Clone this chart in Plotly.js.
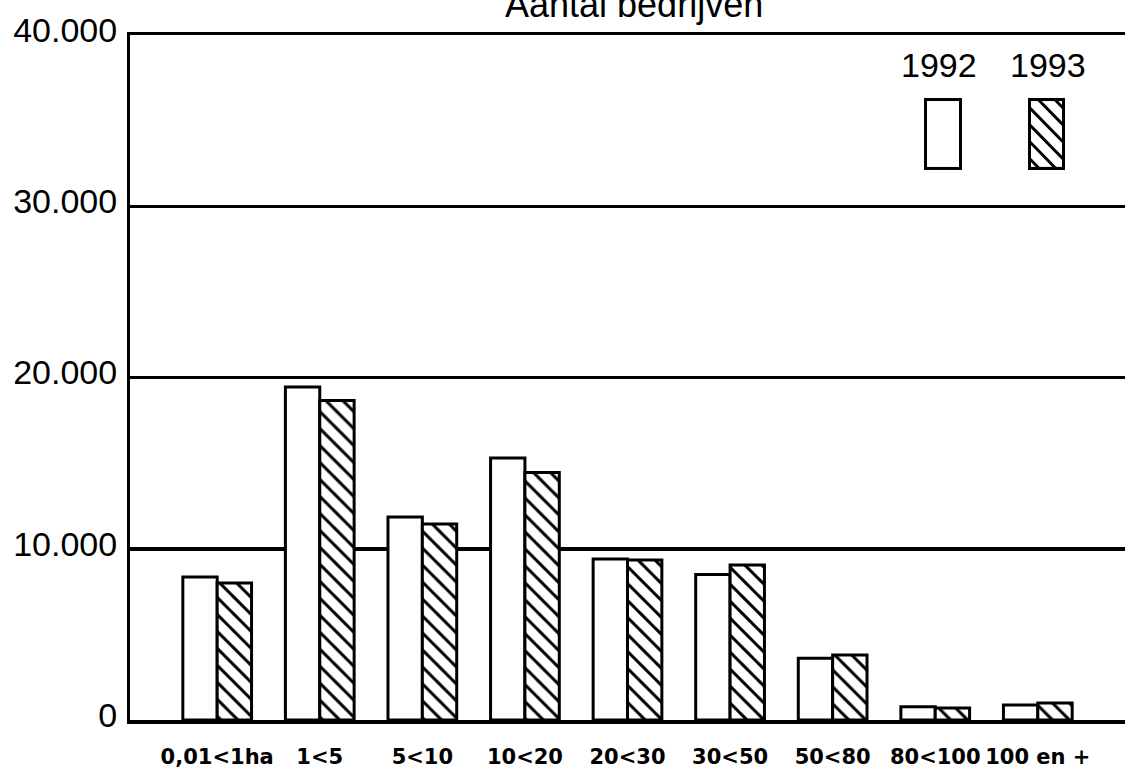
<!DOCTYPE html>
<html>
<head>
<meta charset="utf-8">
<script src="https://cdn.plot.ly/plotly-3.0.1.min.js"></script>
<style>html,body{margin:0;padding:0;background:#fff}#chart{width:1125px;height:773px}</style>
</head>
<body>
<div id="chart"></div>
<script>
// Data
const categories = ["0,01<1ha", "1<5", "5<10", "10<20", "20<30", "30<50", "50<80", "80<100", "100 en +"];
const values1992 = [8350, 19450, 11850, 15300, 9400, 8500, 3600, 780, 870];
const values1993 = [8000, 18650, 11450, 14450, 9350, 9050, 3800, 700, 1000];
const seriesNames = ["1992", "1993"];
const yTicks = [0, 10000, 20000, 30000, 40000];
const chartTitle = "Aantal bedrijven";

const hatch = {shape: "\\", size: 12, solidity: 0.25, fgcolor: "black", bgcolor: "white", fillmode: "replace"};

const traces = [
  {type: "bar", name: seriesNames[0], x: categories, y: values1992,
   marker: {color: "white", line: {color: "black", width: 3}}},
  {type: "bar", name: seriesNames[1], x: categories, y: values1993,
   marker: {color: "white", line: {color: "black", width: 3}, pattern: hatch}}
];

function svgBox(hatched) {
  let s = '<svg xmlns="http://www.w3.org/2000/svg" width="38" height="72" viewBox="0 0 38 72">';
  s += '<defs><clipPath id="c"><rect x="0" y="0" width="38" height="72"/></clipPath></defs>';
  s += '<rect x="1.5" y="1.5" width="35" height="69" fill="white" stroke="black" stroke-width="3"/>';
  if (hatched) {
    s += '<g clip-path="url(#c)" stroke="black" stroke-width="3">';
    for (let k = -60; k < 80; k += 17) {
      s += '<line x1="0" y1="' + k + '" x2="60" y2="' + (k + 60) + '"/>';
    }
    s += '</g><rect x="1.5" y="1.5" width="35" height="69" fill="none" stroke="black" stroke-width="3"/>';
  }
  s += '</svg>';
  return "data:image/svg+xml;base64," + btoa(s);
}

const layout = {
  width: 1125, height: 773,
  margin: {l: 130, r: 0, t: 35, b: 53},
  paper_bgcolor: "white", plot_bgcolor: "white",
  separators: ",.",
  showlegend: false,
  barmode: "group", bargap: 0.33, bargroupgap: 0,
  font: {family: "Liberation Sans, Arial, sans-serif", color: "black"},
  xaxis: {
    type: "category", range: [-0.85, 8.85],
    tickvals: categories, ticktext: categories.map(c => c.replace(/</g, "&lt;")),
    showgrid: false, zeroline: false,
    showline: true, linecolor: "black", linewidth: 3.5, mirror: true,
    ticks: "", ticklabelstandoff: 15,
    tickfont: {family: "DejaVu Sans", size: 21, weight: "bold", color: "black"}
  },
  yaxis: {
    range: [0, 40000], tickvals: yTicks, tickformat: ",d",
    showgrid: true, gridcolor: "black", gridwidth: 3.5,
    zeroline: false, showline: true, linecolor: "black", linewidth: 3,
    ticks: "", ticklabelstandoff: 3, ticklabelshift: -5,
    tickfont: {family: "Liberation Sans", size: 34, color: "black"}
  },
  annotations: [
    {text: chartTitle, xref: "paper", yref: "paper", x: 0.5065, y: 1.012, xanchor: "center", yanchor: "bottom",
     showarrow: false, font: {family: "Liberation Sans", size: 36, color: "black"}},
    {text: seriesNames[0], xref: "paper", yref: "paper", x: 0.8126, y: 0.9555, xanchor: "center", yanchor: "middle",
     showarrow: false, font: {family: "Liberation Sans", size: 34, color: "black"}},
    {text: seriesNames[1], xref: "paper", yref: "paper", x: 0.9226, y: 0.9555, xanchor: "center", yanchor: "middle",
     showarrow: false, font: {family: "Liberation Sans", size: 34, color: "black"}}
  ],
  images: [
    {source: svgBox(false), xref: "paper", yref: "paper", x: 0.798, y: 0.908, sizex: 0.0382, sizey: 0.105,
     xanchor: "left", yanchor: "top", sizing: "stretch", layer: "above"},
    {source: svgBox(true), xref: "paper", yref: "paper", x: 0.9025, y: 0.908, sizex: 0.0372, sizey: 0.105,
     xanchor: "left", yanchor: "top", sizing: "stretch", layer: "above"}
  ]
};

Plotly.newPlot("chart", traces, layout, {staticPlot: true, displayModeBar: false});
</script>
</body>
</html>
